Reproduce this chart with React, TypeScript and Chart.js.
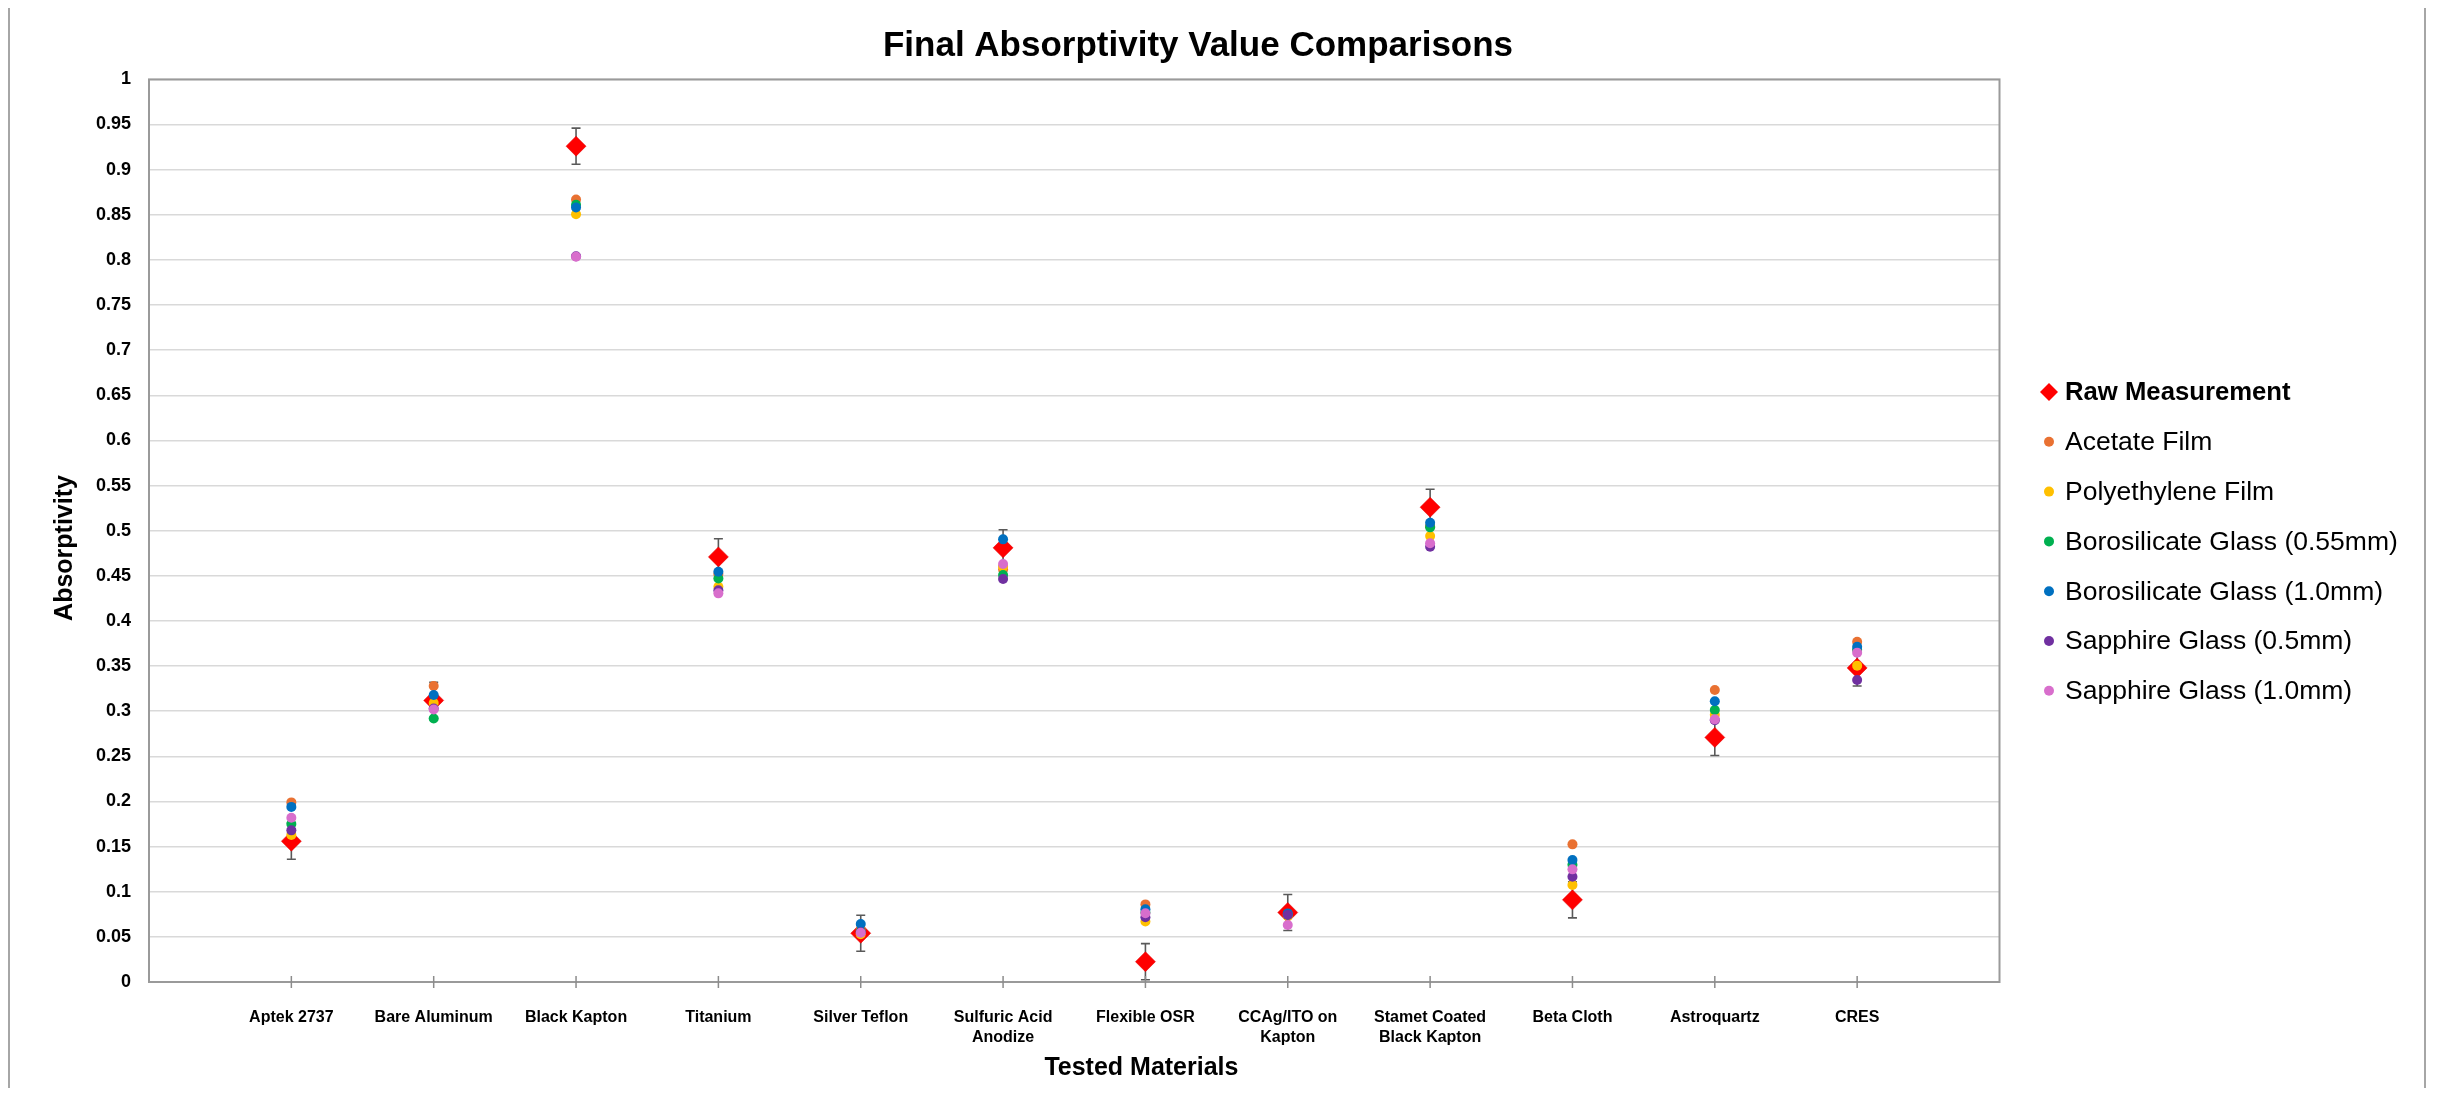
import React, { useEffect, useRef } from 'react';
import { Chart, registerables } from 'chart.js';

Chart.register(...registerables);

// ---- data ----
const categories = [
  'Aptek 2737',
  'Bare Aluminum',
  'Black Kapton',
  'Titanium',
  'Silver Teflon',
  'Sulfuric Acid\nAnodize',
  'Flexible OSR',
  'CCAg/ITO on\nKapton',
  'Stamet Coated\nBlack Kapton',
  'Beta Cloth',
  'Astroquartz',
  'CRES',
];

const seriesNames = [
  'Raw Measurement',
  'Acetate Film',
  'Polyethylene Film',
  'Borosilicate Glass (0.55mm)',
  'Borosilicate Glass (1.0mm)',
  'Sapphire Glass (0.5mm)',
  'Sapphire Glass (1.0mm)',
];

const seriesColors = ['#FF0000', '#E97132', '#FFC000', '#00B050', '#0070C0', '#7030A0', '#D86ECC'];

const rawMeasurement = [0.156, 0.312, 0.926, 0.471, 0.054, 0.481, 0.0225, 0.077, 0.526, 0.091, 0.271, 0.348];
const rawError = [0.02, 0.02, 0.02, 0.02, 0.02, 0.02, 0.02, 0.02, 0.02, 0.02, 0.02, 0.02];
const acetateFilm = [0.199, 0.328, 0.867, 0.452, 0.058, 0.457, 0.086, 0.075, 0.505, 0.1525, 0.3235, 0.377];
const polyethyleneFilm = [0.163, 0.309, 0.8505, 0.438, 0.053, 0.46, 0.067, 0.073, 0.494, 0.1075, 0.296, 0.3505];
const borosilicate055 = [0.175, 0.292, 0.861, 0.447, 0.056, 0.451, 0.077, 0.0745, 0.5037, 0.13, 0.3013, 0.368];
const borosilicate10 = [0.194, 0.318, 0.858, 0.4546, 0.0643, 0.4904, 0.0805, 0.076, 0.5089, 0.1352, 0.311, 0.3715];
const sapphire05 = [0.168, 0.303, 0.804, 0.434, 0.055, 0.4465, 0.0717, 0.0742, 0.4823, 0.1167, 0.29, 0.3346];
const sapphire10 = [0.182, 0.302, 0.8036, 0.4306, 0.0546, 0.4631, 0.0761, 0.0631, 0.486, 0.1248, 0.291, 0.3649];

const seriesValues = [
  rawMeasurement,
  acetateFilm,
  polyethyleneFilm,
  borosilicate055,
  borosilicate10,
  sapphire05,
  sapphire10,
];

const chartTitle = 'Final Absorptivity Value Comparisons';
const xTitle = 'Tested Materials';
const yTitle = 'Absorptivity';

// ---- layout ----
const W = 2420;
const H = 1084;
const FONT = "'Liberation Sans', Arial, sans-serif";

const decorPlugin = {
  id: 'decor',
  beforeDatasetsDraw(chart: any) {
    const ctx = chart.ctx;
    const xs = chart.scales.x;
    const ys = chart.scales.y;
    ctx.save();
    ctx.strokeStyle = '#595959';
    ctx.lineWidth = 1.6;
    rawMeasurement.forEach((v, i) => {
      const x = xs.getPixelForValue(i + 1);
      const yt = ys.getPixelForValue(v + rawError[i]);
      const yb = ys.getPixelForValue(v - rawError[i]);
      ctx.beginPath();
      ctx.moveTo(x, yt);
      ctx.lineTo(x, yb);
      ctx.moveTo(x - 4.5, yt);
      ctx.lineTo(x + 4.5, yt);
      ctx.moveTo(x - 4.5, yb);
      ctx.lineTo(x + 4.5, yb);
      ctx.stroke();
    });
    ctx.restore();
  },
  afterDraw(chart: any) {
    const ctx = chart.ctx;
    const area = chart.chartArea;
    const xs = chart.scales.x;
    ctx.save();
    // outer chart border (bottom is off-screen)
    ctx.strokeStyle = '#A6A6A6';
    ctx.lineWidth = 2;
    ctx.beginPath();
    ctx.moveTo(1, H + 10);
    ctx.lineTo(1, 1);
    ctx.lineTo(W - 3, 1);
    ctx.lineTo(W - 3, H + 10);
    ctx.stroke();

    // plot area border
    ctx.strokeStyle = '#9A9A9A';
    ctx.lineWidth = 2;
    ctx.strokeRect(area.left, area.top, area.right - area.left, area.bottom - area.top);

    // x tick marks (cross)
    ctx.strokeStyle = '#8C8C8C';
    ctx.lineWidth = 1.5;
    categories.forEach((_, i) => {
      const x = xs.getPixelForValue(i + 1);
      ctx.beginPath();
      ctx.moveTo(x, area.bottom - 6);
      ctx.lineTo(x, area.bottom + 6);
      ctx.stroke();
    });

    // title
    ctx.fillStyle = '#000000';
    ctx.font = `bold 35px ${FONT}`;
    ctx.textAlign = 'center';
    ctx.textBaseline = 'middle';
    ctx.fillText(chartTitle, 1190, 42);

    // x axis title
    ctx.font = `bold 25px ${FONT}`;
    ctx.fillText(xTitle, xs.getPixelForValue(7) - 4, 1064);

    // y axis title
    ctx.save();
    ctx.translate(57, 544);
    ctx.rotate(-Math.PI / 2);
    ctx.fillText(yTitle, 0, 0);
    ctx.restore();

    // legend
    const lx = 2041;
    const ty = 388;
    seriesNames.forEach((name, i) => {
      const y = ty + i * 49.8;
      ctx.fillStyle = seriesColors[i];
      ctx.beginPath();
      if (i === 0) {
        ctx.moveTo(lx - 9, y);
        ctx.lineTo(lx, y - 9);
        ctx.lineTo(lx + 9, y);
        ctx.lineTo(lx, y + 9);
        ctx.closePath();
      } else {
        ctx.arc(lx, y, 5, 0, Math.PI * 2);
      }
      ctx.fill();
      ctx.fillStyle = '#000000';
      ctx.textAlign = 'left';
      ctx.textBaseline = 'middle';
      ctx.font = i === 0 ? `bold 25.7px ${FONT}` : `26.5px ${FONT}`;
      ctx.fillText(name, lx + 16, y + 1);
    });
    ctx.restore();
  },
};

export default function App() {
  const ref = useRef<HTMLCanvasElement | null>(null);

  useEffect(() => {
    if (!ref.current) return;
    const datasets = seriesValues.map((vals, si) => ({
      label: seriesNames[si],
      data: vals.map((v, i) => ({ x: i + 1, y: v })),
      backgroundColor: seriesColors[si],
      borderColor: si === 0 ? '#E00000' : seriesColors[si],
      borderWidth: si === 0 ? 0.5 : 0,
      pointStyle: si === 0 ? 'rectRot' : 'circle',
      pointRadius: si === 0 ? 10 : 5,
      pointHoverRadius: si === 0 ? 10 : 5,
      showLine: false,
      order: seriesValues.length - si,
    }));

    const chart = new Chart(ref.current, {
      type: 'scatter',
      data: { datasets },
      options: {
        responsive: false,
        animation: false,
        events: [],
        layout: { padding: { left: 0, top: 75.4, right: 428.5, bottom: 0 } },
        plugins: {
          legend: { display: false },
          title: { display: false },
          tooltip: { enabled: false },
        },
        scales: {
          x: {
            type: 'linear',
            min: 0,
            max: 13,
            afterFit: (s: any) => {
              s.height = 106;
            },
            grid: { display: false, drawTicks: false },
            border: { display: false },
            ticks: {
              stepSize: 1,
              autoSkip: false,
              maxRotation: 0,
              minRotation: 0,
              padding: 26,
              color: '#000000',
              font: { family: FONT, size: 16, weight: 'bold', lineHeight: 1.25 },
              callback: (v: any) => {
                const n = Number(v);
                if (n >= 1 && n <= categories.length && Number.isInteger(n)) {
                  return categories[n - 1].split('\n');
                }
                return '';
              },
            },
          },
          y: {
            type: 'linear',
            min: 0,
            max: 1,
            afterFit: (s: any) => {
              s.width = 141;
            },
            grid: { color: '#D9D9D9', lineWidth: 1.5, drawTicks: false },
            border: { display: false },
            ticks: {
              stepSize: 0.05,
              padding: 18,
              color: '#000000',
              font: { family: FONT, size: 18, weight: 'bold' },
              callback: (v: any) => String(Number(Number(v).toFixed(2))),
            },
          },
        },
      },
      plugins: [decorPlugin],
    } as any);

    return () => chart.destroy();
  }, []);

  return (
    <canvas
      ref={ref}
      width={W}
      height={H}
      style={{ display: 'block', marginTop: -4, width: W, height: H }}
    />
  );
}
